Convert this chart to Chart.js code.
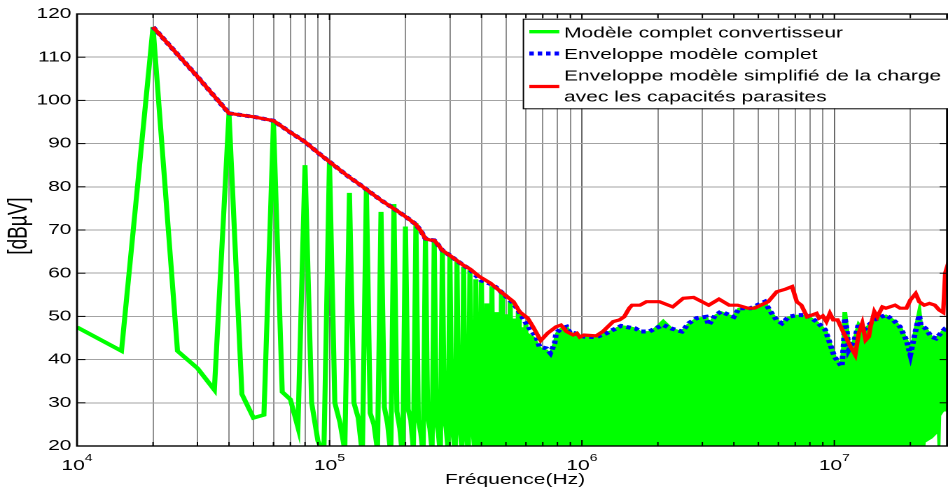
<!DOCTYPE html>
<html>
<head>
<meta charset="utf-8">
<script src="https://cdn.jsdelivr.net/npm/chart.js@4.4.1/dist/chart.umd.min.js"></script>
<style>
  html, body { margin: 0; padding: 0; background: #fff; }
</style>
</head>
<body>
<!-- la figure d'origine est etiree horizontalement : canvas etroit, affiche en 948 px -->
<canvas id="spectre" width="677" height="492" style="width:948px;height:492px"></canvas>
<script>
// raies du modele complet, lues tous les 5 kHz (kHz / dBuV)
const greenFreqKHz = [
  10, 15, 20, 25, 30, 35, 40, 45, 50, 55, 60, 65, 70, 75, 80, 85, 90, 95,
  100, 105, 110, 115, 120, 125, 130, 135, 140, 145, 150, 155, 160, 165, 170, 175,
  180, 185, 190, 195, 200, 205, 210, 215, 220, 225, 230, 235, 240, 245, 250, 255,
  260, 265, 270, 275, 280, 285, 290, 295, 300, 305, 310, 315, 320, 325, 330, 335,
  340, 345, 350, 355, 360, 365, 370, 375, 380, 385, 390, 395, 400, 405, 410, 415,
  420, 425, 430, 435, 440, 445, 450, 455, 460, 465, 470, 475, 480, 485, 490, 495,
  500, 505, 510, 515, 520, 525, 530, 535, 540, 545, 550, 555, 560, 565, 570, 575,
  580, 585, 590, 595, 600
];
const greenDb = [
  47.5, 42, 117, 42, 38, 33, 97, 32, 26.5, 27.2, 95, 32.5, 30.8, 24.3, 85, 30, 21.2, 18,
  86, 30, 25.5, 19, 78.6, 30, 26.5, 18, 79.7, 27.6, 25, 19, 74.2, 29, 25, 18,
  76, 28, 24, 17, 70.8, 28.5, 26, 19, 71.6, 26, 23, 18, 67.7, 27, 24, 19,
  67.7, 26, 23, 18, 65.4, 27, 24, 19, 64.2, 26, 22, 18, 63, 26, 23, 19,
  61.5, 25, 22, 18, 60.7, 27, 24, 20, 58.6, 25, 22, 18, 58, 26, 23, 19,
  53, 25, 22, 18, 57, 26, 23, 19, 51, 25, 22, 18, 55.5, 26, 23, 19,
  50.5, 27, 23, 19, 53.5, 26, 22, 18, 49.5, 27, 24, 19, 51, 26, 23, 18,
  47.5, 25, 22, 19, 48.5
];

// au-dela de ~400 kHz les raies se confondent : bord superieur de la masse verte (Hz, dBuV)
const greenMassTop = [
  [4.2e5, 28], [4.5e5, 38], [4.8e5, 43], [5.2e5, 45.5], [5.6e5, 46.5], [6.0e5, 46],
  [6.4e5, 45], [6.8e5, 42.5], [7.2e5, 42], [7.5e5, 41], [7.8e5, 43.5], [8.0e5, 46],
  [8.3e5, 47], [8.7e5, 47.3], [9.0e5, 46], [9.4e5, 45.8], [1.02e6, 45], [1.14e6, 45],
  [1.25e6, 46], [1.33e6, 46.6], [1.43e6, 47.6], [1.55e6, 47.3], [1.63e6, 47], [1.7e6, 46.2],
  [1.85e6, 46.2], [1.95e6, 47], [2.1e6, 48.8], [2.26e6, 47], [2.49e6, 46.2], [2.65e6, 48],
  [2.85e6, 49.3], [3.1e6, 49.6], [3.18e6, 47.8], [3.38e6, 50], [3.56e6, 50.8], [4.0e6, 49.6],
  [4.2e6, 51.6], [4.66e6, 51.6], [5.3e6, 53], [5.53e6, 51.2], [5.9e6, 49], [6.2e6, 48.2],
  [6.6e6, 49.6], [7.1e6, 50], [7.8e6, 50], [8.5e6, 48.5], [9.2e6, 46.6], [9.6e6, 43.5],
  [1.0e7, 40.5], [1.07e7, 38.2], [1.09e7, 43.5], [1.1e7, 51], [1.12e7, 47], [1.14e7, 42],
  [1.2e7, 44.2], [1.25e7, 48], [1.31e7, 46.6], [1.37e7, 47.7], [1.44e7, 49], [1.53e7, 49.6],
  [1.6e7, 50], [1.71e7, 49], [1.82e7, 47.3], [1.93e7, 44.2], [2.0e7, 41], [2.08e7, 45.5],
  [2.17e7, 50.8], [2.2e7, 47.7], [2.3e7, 47], [2.42e7, 45], [2.53e7, 44.6], [2.64e7, 45.8],
  [2.75e7, 47], [2.85e7, 47]
];
// bord inferieur de la masse (blanc visible en bas a droite)
const greenMassBottom = [
  [4.2e5, 15], [2.27e7, 15], [2.3e7, 20.8], [2.45e7, 21.8], [2.55e7, 22.8],
  [2.58e7, 15], [2.62e7, 15], [2.65e7, 27], [2.72e7, 28], [2.85e7, 28]
];

// enveloppe du modele complet (Hz, dBuV)
const blueEnv = [
  [2e4, 117], [3e4, 105.5], [4e4, 97], [5e4, 96.2], [6e4, 95.3], [7e4, 92.6], [8e4, 90.4],
  [9e4, 87.9], [1e5, 85.8], [1.1e5, 83.9], [1.2e5, 82.2], [1.3e5, 80.8], [1.4e5, 79.4],
  [1.5e5, 78.1], [1.6e5, 76.9], [1.7e5, 75.9], [1.8e5, 74.9], [1.9e5, 74], [2e5, 73.1],
  [2.1e5, 72.2], [2.2e5, 71.3], [2.3e5, 69.8], [2.4e5, 68], [2.5e5, 67.7], [2.6e5, 67.6],
  [2.7e5, 66.5], [2.8e5, 65.3], [3e5, 64.1], [3.2e5, 62.9], [3.4e5, 61.8], [3.6e5, 60.9],
  [3.8e5, 59.5], [4e5, 58.3], [4.45e5, 57.3], [4.87e5, 55.3], [5.36e5, 53], [5.58e5, 51.5],
  [5.84e5, 49.6], [6.2e5, 47.2], [6.59e5, 45.3], [6.79e5, 43], [7.23e5, 42.6], [7.5e5, 41.5],
  [7.8e5, 43.8], [7.9e5, 46.1], [8.26e5, 47.2], [8.7e5, 47.6], [8.97e5, 46.2], [9.4e5, 46.1],
  [1.02e6, 45.3], [1.14e6, 45.2], [1.25e6, 46.1], [1.33e6, 46.9], [1.43e6, 47.8], [1.55e6, 47.4],
  [1.63e6, 47.2], [1.7e6, 46.5], [1.85e6, 46.5], [1.95e6, 47.2], [2.1e6, 48], [2.26e6, 47.2],
  [2.49e6, 46.5], [2.65e6, 48.4], [2.85e6, 49.6], [3.1e6, 49.9], [3.18e6, 48], [3.38e6, 50.3],
  [3.56e6, 51.1], [4e6, 49.9], [4.2e6, 51.9], [4.66e6, 51.9], [5.3e6, 53.4], [5.53e6, 51.5],
  [5.9e6, 49.2], [6.2e6, 48.4], [6.6e6, 49.9], [7.1e6, 50.3], [7.8e6, 50.3], [8.5e6, 48.8],
  [9.2e6, 46.9], [9.6e6, 43.8], [1e7, 40.7], [1.07e7, 38.4], [1.09e7, 43.8], [1.1e7, 49.6],
  [1.12e7, 46.9], [1.14e7, 42.2], [1.2e7, 44.5], [1.25e7, 48.4], [1.31e7, 46.9], [1.37e7, 48],
  [1.44e7, 49.2], [1.53e7, 49.9], [1.6e7, 50.3], [1.71e7, 49.2], [1.82e7, 47.6], [1.93e7, 44.5],
  [2e7, 41.1], [2.08e7, 45.7], [2.17e7, 50.3], [2.2e7, 48], [2.3e7, 47.2], [2.42e7, 45.3],
  [2.53e7, 44.9], [2.64e7, 46.1], [2.75e7, 47.2], [2.85e7, 47.5]
];

// enveloppe du modele simplifie avec capacites parasites (Hz, dBuV)
const redEnv = [
  [2e4, 117], [3e4, 105.5], [4e4, 97], [5e4, 96.2], [6e4, 95.3], [7e4, 92.6], [8e4, 90.4],
  [9e4, 87.9], [1e5, 85.8], [1.1e5, 83.9], [1.2e5, 82.2], [1.3e5, 80.8], [1.4e5, 79.4],
  [1.5e5, 78.1], [1.6e5, 76.9], [1.7e5, 75.9], [1.8e5, 74.9], [1.9e5, 74], [2e5, 73.1],
  [2.1e5, 72.2], [2.2e5, 71.3], [2.3e5, 69.8], [2.4e5, 68], [2.5e5, 67.7], [2.6e5, 67.6],
  [2.7e5, 66.5], [2.8e5, 65.3], [3e5, 64.1], [3.2e5, 62.9], [3.4e5, 61.8], [3.6e5, 61],
  [3.93e5, 59.2], [4.34e5, 57.7], [4.87e5, 55.3], [5.36e5, 53.4], [5.66e5, 51.1], [6.1e5, 49.6],
  [6.4e5, 47.6], [6.87e5, 44.4], [7.31e5, 46.1], [7.9e5, 47.6], [8.26e5, 48], [8.69e5, 46.5],
  [9.23e5, 45.7], [9.55e5, 46.1], [9.81e5, 45.2], [1.02e6, 45.7], [1.14e6, 45.5], [1.21e6, 46.5],
  [1.33e6, 48.8], [1.41e6, 49.2], [1.47e6, 49.9], [1.54e6, 51.9], [1.58e6, 52.6], [1.7e6, 52.6],
  [1.8e6, 53.4], [2.03e6, 53.4], [2.29e6, 52.2], [2.52e6, 54.2], [2.77e6, 54.4], [2.99e6, 53.4],
  [3.18e6, 52.6], [3.49e6, 54], [3.83e6, 52.6], [4.14e6, 52.6], [4.55e6, 51.9], [4.83e6, 51.9],
  [5.47e6, 53.4], [5.91e6, 55.7], [6.4e6, 56.3], [6.8e6, 56.9], [7.1e6, 53.4], [7.4e6, 52.6],
  [7.8e6, 49.9], [8.5e6, 50.7], [8.7e6, 49.6], [9e6, 50.1], [9.3e6, 48.8], [9.6e6, 50.7],
  [9.9e6, 49.2], [1.03e7, 49.2], [1.09e7, 46.1], [1.16e7, 43], [1.21e7, 41.1], [1.25e7, 46.1],
  [1.29e7, 48.4], [1.33e7, 44.5], [1.37e7, 45.3], [1.39e7, 47.6], [1.44e7, 51.1], [1.48e7, 49.9],
  [1.55e7, 52.2], [1.6e7, 51.9], [1.74e7, 52.6], [1.82e7, 51.9], [1.93e7, 51.9], [2e7, 53.8],
  [2.1e7, 55.3], [2.17e7, 53.4], [2.27e7, 52.6], [2.38e7, 53], [2.5e7, 52.6], [2.6e7, 51.5],
  [2.7e7, 50.9], [2.75e7, 60], [2.85e7, 63]
];

const xMin = 1e4, xMax = 2.82e7;
const decades = [1e4, 1e5, 1e6, 1e7];
const legendRows = [
  'Modèle complet convertisseur',
  'Enveloppe modèle complet',
  'Enveloppe modèle simplifié de la charge',
  'avec les capacités parasites'
];

const FONT = '"Liberation Sans", Arial, Helvetica, sans-serif';
Chart.defaults.font.family = FONT;
Chart.defaults.color = '#000';

const toXY = (pairs) => pairs.map(p => ({ x: p[0], y: p[1] }));
const greenPts = greenFreqKHz.map((f, i) => ({ x: f * 1000, y: greenDb[i] }));

// grille log : 1..9 x 10^n
const logGrid = [];
decades.forEach(d => {
  for (let m = 1; m <= 9; m++) {
    if (m * d <= xMax) logGrid.push({ value: m * d, major: m === 1 });
  }
});

function seg(ctx, x1, y1, x2, y2) {
  ctx.beginPath(); ctx.moveTo(x1, y1); ctx.lineTo(x2, y2); ctx.stroke();
}

// habillage facon Matlab : cadre, graduations, 10^n, titres, legende
const matlabLook = {
  id: 'matlabLook',
  afterDraw(chart) {
    const { ctx, chartArea: a, scales } = chart;
    const x = scales.x, y = scales.y;
    ctx.save();

    ctx.strokeStyle = '#000';
    ctx.lineWidth = 1;
    x.ticks.forEach(t => {
      const px = x.getPixelForValue(t.value);
      const len = t.major ? 6 : 4;
      seg(ctx, px, a.bottom, px, a.bottom - len);
      seg(ctx, px, a.top, px, a.top + len);
    });
    y.ticks.forEach(t => {
      const py = y.getPixelForValue(t.value);
      seg(ctx, a.left, py, a.left + 6, py);
      seg(ctx, a.right, py, a.right - 6, py);
    });
    ctx.lineWidth = 1.4;
    ctx.strokeRect(a.left, a.top, a.right - a.left - 0.7, a.bottom - a.top);

    // etiquettes 10^n
    ctx.fillStyle = '#000';
    ctx.textAlign = 'left';
    ctx.textBaseline = 'alphabetic';
    x.ticks.filter(t => t.major).forEach(t => {
      const px = x.getPixelForValue(t.value);
      const e = String(Math.round(Math.log10(t.value)));
      ctx.font = '15px ' + FONT;
      const wb = ctx.measureText('10').width;
      ctx.font = '10px ' + FONT;
      const we = ctx.measureText(e).width;
      const x0 = px - (wb + we) / 2;
      ctx.font = '15px ' + FONT;
      ctx.fillText('10', x0, a.bottom + 24);
      ctx.font = '10px ' + FONT;
      ctx.fillText(e, x0 + wb, a.bottom + 15);
    });

    ctx.font = '15px ' + FONT;
    ctx.textAlign = 'center';
    ctx.fillText('Fréquence(Hz)', 367.8, a.bottom + 38);

    ctx.save();
    ctx.translate(13.6, 226);
    ctx.rotate(-Math.PI / 2);
    ctx.font = '19px ' + FONT;
    ctx.textBaseline = 'middle';
    ctx.fillText('[dBµV]', 0, 0);
    ctx.restore();

    // legende
    const L = 373.3, T = 18.7, B = 108.3;
    ctx.fillStyle = '#fff';
    ctx.fillRect(L, T, chart.width - L + 5, B - T);
    ctx.strokeStyle = '#000';
    ctx.lineWidth = 1;
    ctx.strokeRect(L + 0.5, T + 0.5, chart.width - L + 5, B - T);

    const s0 = 378, s1 = 399.4;
    ctx.lineCap = 'butt';
    ctx.lineWidth = 3.4; ctx.strokeStyle = '#00ff00';
    seg(ctx, s0, 31.7, s1, 31.7);
    ctx.lineWidth = 4; ctx.strokeStyle = '#0000ff'; ctx.setLineDash([3.2, 2.8]);
    seg(ctx, s0, 53.5, s1, 53.5);
    ctx.setLineDash([]);
    ctx.lineWidth = 3.2; ctx.strokeStyle = '#ff0000';
    seg(ctx, s0, 86.5, s1, 86.5);

    ctx.fillStyle = '#000';
    ctx.textAlign = 'left';
    ctx.font = '15px ' + FONT;
    const baselines = [37.7, 59, 80.3, 101.6];
    legendRows.forEach((txt, i) => ctx.fillText(txt, 402.8, baselines[i]));

    ctx.restore();
  }
};

new Chart(document.getElementById('spectre'), {
  type: 'line',
  data: {
    datasets: [{
      label: 'Enveloppe modèle simplifié de la charge avec les capacités parasites',
      data: toXY(redEnv),
      borderColor: '#ff0000',
      borderWidth: 3.2,
      order: 1
    }, {
      label: 'Enveloppe modèle complet',
      data: toXY(blueEnv),
      borderColor: '#0000ff',
      borderWidth: 4,
      borderDash: [3.2, 2.8],
      borderCapStyle: 'butt',
      order: 2
    }, {
      label: 'Modèle complet convertisseur',
      data: greenPts,
      borderColor: '#00ff00',
      borderWidth: 3.6,
      order: 3
    }, {
      label: 'masse',
      data: toXY(greenMassTop),
      borderColor: '#00ff00',
      backgroundColor: '#00ff00',
      borderWidth: 3.4,
      fill: '+1',
      order: 4
    }, {
      label: 'bas',
      data: toXY(greenMassBottom),
      borderWidth: 0,
      borderColor: 'rgba(0,0,0,0)',
      fill: false,
      order: 5
    }]
  },
  options: {
    responsive: false,
    devicePixelRatio: 2,
    animation: false,
    layout: { autoPadding: false, padding: { top: 14, right: 0, left: 0, bottom: 0 } },
    elements: { point: { radius: 0 }, line: { tension: 0 } },
    datasets: { line: { clip: 0 } },
    plugins: { legend: { display: false }, tooltip: { enabled: false } },
    scales: {
      x: {
        type: 'logarithmic',
        min: xMin,
        max: xMax,
        afterBuildTicks: (scale) => { scale.ticks = logGrid.map(t => ({ value: t.value, major: t.major })); },
        afterFit: (scale) => { scale.height = 46; },
        ticks: { display: false },
        border: { display: false },
        grid: {
          drawTicks: false,
          lineWidth: 0.8,
          color: (c) => (c.tick && c.tick.major ? '#444' : '#737373')
        }
      },
      y: {
        min: 20,
        max: 120,
        afterFit: (scale) => { scale.width = 55; },
        ticks: { stepSize: 10, padding: 4, font: { size: 15 }, color: '#000' },
        border: { display: false },
        grid: { drawTicks: false, lineWidth: 1, color: '#a3a3a3' }
      }
    }
  },
  plugins: [matlabLook]
});
</script>
</body>
</html>
